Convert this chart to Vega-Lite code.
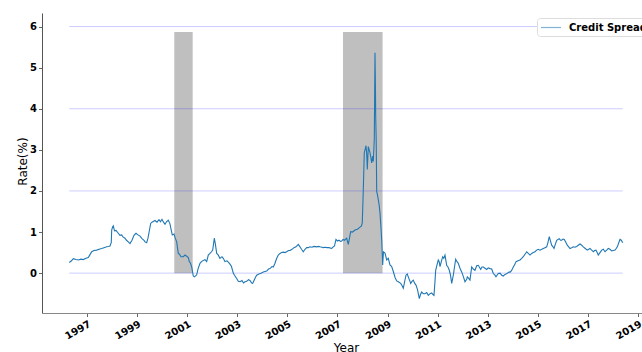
{
  "$schema": "https://vega.github.io/schema/vega-lite/v6.json",
  "width": 600,
  "height": 300,
  "autosize": {"type": "none"},
  "padding": {"left": 42, "top": 13, "right": 0, "bottom": 39},
  "background": "white",
  "config": {
    "view": {"stroke": null},
    "font": "DejaVu Sans",
    "axis": {
      "labelFont": "DejaVu Sans",
      "labelFontWeight": "bold",
      "labelFontSize": 10,
      "labelColor": "#000000",
      "titleFont": "DejaVu Sans",
      "titleFontWeight": "normal",
      "titleFontSize": 12,
      "titleColor": "#000000",
      "tickSize": 3.5,
      "tickColor": "#666666",
      "grid": false
    }
  },
  "datasets": {
    "spread": [
      {"year": 1996.293, "rate": 0.26}, {"year": 1996.381, "rate": 0.30}, {"year": 1996.453, "rate": 0.35},
      {"year": 1996.561, "rate": 0.33}, {"year": 1996.653, "rate": 0.32}, {"year": 1996.760, "rate": 0.34},
      {"year": 1996.852, "rate": 0.33}, {"year": 1996.960, "rate": 0.36}, {"year": 1997.052, "rate": 0.38},
      {"year": 1997.120, "rate": 0.45}, {"year": 1997.188, "rate": 0.52}, {"year": 1997.279, "rate": 0.55},
      {"year": 1997.387, "rate": 0.56}, {"year": 1997.479, "rate": 0.58}, {"year": 1997.587, "rate": 0.60},
      {"year": 1997.679, "rate": 0.62}, {"year": 1997.786, "rate": 0.64}, {"year": 1997.858, "rate": 0.65},
      {"year": 1997.918, "rate": 0.66}, {"year": 1997.970, "rate": 0.75}, {"year": 1997.986, "rate": 1.05},
      {"year": 1998.026, "rate": 1.13}, {"year": 1998.050, "rate": 1.15}, {"year": 1998.098, "rate": 1.03},
      {"year": 1998.158, "rate": 1.04}, {"year": 1998.250, "rate": 0.97}, {"year": 1998.317, "rate": 0.92},
      {"year": 1998.385, "rate": 0.93}, {"year": 1998.437, "rate": 0.88}, {"year": 1998.517, "rate": 0.85},
      {"year": 1998.577, "rate": 0.80}, {"year": 1998.649, "rate": 0.76}, {"year": 1998.717, "rate": 0.72},
      {"year": 1998.796, "rate": 0.80}, {"year": 1998.876, "rate": 0.92}, {"year": 1998.956, "rate": 0.97},
      {"year": 1999.036, "rate": 0.93}, {"year": 1999.116, "rate": 0.90}, {"year": 1999.196, "rate": 0.84},
      {"year": 1999.275, "rate": 0.80}, {"year": 1999.315, "rate": 0.76}, {"year": 1999.383, "rate": 0.74},
      {"year": 1999.435, "rate": 0.85}, {"year": 1999.495, "rate": 1.05}, {"year": 1999.543, "rate": 1.21},
      {"year": 1999.595, "rate": 1.24}, {"year": 1999.715, "rate": 1.28}, {"year": 1999.794, "rate": 1.24},
      {"year": 1999.874, "rate": 1.30}, {"year": 1999.934, "rate": 1.25}, {"year": 1999.994, "rate": 1.31},
      {"year": 2000.054, "rate": 1.24}, {"year": 2000.114, "rate": 1.19}, {"year": 2000.174, "rate": 1.25},
      {"year": 2000.246, "rate": 1.29}, {"year": 2000.313, "rate": 1.20}, {"year": 2000.361, "rate": 1.05},
      {"year": 2000.405, "rate": 0.93}, {"year": 2000.473, "rate": 0.95}, {"year": 2000.513, "rate": 0.87},
      {"year": 2000.581, "rate": 0.76}, {"year": 2000.645, "rate": 0.48}, {"year": 2000.693, "rate": 0.46},
      {"year": 2000.752, "rate": 0.40}, {"year": 2000.844, "rate": 0.40}, {"year": 2000.912, "rate": 0.44},
      {"year": 2000.980, "rate": 0.41}, {"year": 2001.044, "rate": 0.38}, {"year": 2001.084, "rate": 0.28},
      {"year": 2001.132, "rate": 0.24}, {"year": 2001.180, "rate": 0.15}, {"year": 2001.243, "rate": -0.07},
      {"year": 2001.291, "rate": -0.09}, {"year": 2001.379, "rate": -0.04}, {"year": 2001.431, "rate": 0.10},
      {"year": 2001.511, "rate": 0.24}, {"year": 2001.571, "rate": 0.28}, {"year": 2001.643, "rate": 0.31},
      {"year": 2001.711, "rate": 0.33}, {"year": 2001.778, "rate": 0.28}, {"year": 2001.842, "rate": 0.44},
      {"year": 2001.910, "rate": 0.48}, {"year": 2001.970, "rate": 0.52}, {"year": 2002.018, "rate": 0.56},
      {"year": 2002.050, "rate": 0.70}, {"year": 2002.082, "rate": 0.85}, {"year": 2002.122, "rate": 0.72},
      {"year": 2002.178, "rate": 0.48}, {"year": 2002.230, "rate": 0.45}, {"year": 2002.309, "rate": 0.36},
      {"year": 2002.389, "rate": 0.40}, {"year": 2002.441, "rate": 0.36}, {"year": 2002.509, "rate": 0.28},
      {"year": 2002.589, "rate": 0.30}, {"year": 2002.649, "rate": 0.26}, {"year": 2002.709, "rate": 0.22},
      {"year": 2002.768, "rate": 0.16}, {"year": 2002.840, "rate": 0.00}, {"year": 2002.888, "rate": -0.05},
      {"year": 2002.976, "rate": -0.13}, {"year": 2003.040, "rate": -0.20}, {"year": 2003.108, "rate": -0.21},
      {"year": 2003.188, "rate": -0.18}, {"year": 2003.248, "rate": -0.24}, {"year": 2003.307, "rate": -0.21},
      {"year": 2003.375, "rate": -0.20}, {"year": 2003.447, "rate": -0.16}, {"year": 2003.507, "rate": -0.18},
      {"year": 2003.575, "rate": -0.24}, {"year": 2003.615, "rate": -0.25}, {"year": 2003.667, "rate": -0.18},
      {"year": 2003.727, "rate": -0.10}, {"year": 2003.774, "rate": -0.05}, {"year": 2003.866, "rate": -0.02},
      {"year": 2003.946, "rate": 0.00}, {"year": 2004.038, "rate": 0.03}, {"year": 2004.106, "rate": 0.04},
      {"year": 2004.174, "rate": 0.05}, {"year": 2004.246, "rate": 0.10}, {"year": 2004.305, "rate": 0.11},
      {"year": 2004.385, "rate": 0.16}, {"year": 2004.437, "rate": 0.15}, {"year": 2004.505, "rate": 0.24},
      {"year": 2004.565, "rate": 0.35}, {"year": 2004.637, "rate": 0.44}, {"year": 2004.705, "rate": 0.48},
      {"year": 2004.772, "rate": 0.50}, {"year": 2004.836, "rate": 0.51}, {"year": 2004.904, "rate": 0.50},
      {"year": 2004.972, "rate": 0.52}, {"year": 2005.044, "rate": 0.55}, {"year": 2005.104, "rate": 0.55},
      {"year": 2005.184, "rate": 0.58}, {"year": 2005.263, "rate": 0.62}, {"year": 2005.343, "rate": 0.64},
      {"year": 2005.435, "rate": 0.70}, {"year": 2005.503, "rate": 0.64}, {"year": 2005.563, "rate": 0.58},
      {"year": 2005.635, "rate": 0.52}, {"year": 2005.703, "rate": 0.58}, {"year": 2005.770, "rate": 0.62},
      {"year": 2005.834, "rate": 0.62}, {"year": 2005.902, "rate": 0.64}, {"year": 2005.982, "rate": 0.63},
      {"year": 2006.062, "rate": 0.65}, {"year": 2006.170, "rate": 0.64}, {"year": 2006.242, "rate": 0.65},
      {"year": 2006.301, "rate": 0.64}, {"year": 2006.381, "rate": 0.63}, {"year": 2006.433, "rate": 0.62},
      {"year": 2006.501, "rate": 0.63}, {"year": 2006.581, "rate": 0.62}, {"year": 2006.661, "rate": 0.62},
      {"year": 2006.768, "rate": 0.60}, {"year": 2006.832, "rate": 0.64}, {"year": 2006.880, "rate": 0.66},
      {"year": 2006.940, "rate": 0.82}, {"year": 2007.000, "rate": 0.78}, {"year": 2007.060, "rate": 0.80},
      {"year": 2007.120, "rate": 0.77}, {"year": 2007.168, "rate": 0.78}, {"year": 2007.220, "rate": 0.82},
      {"year": 2007.279, "rate": 0.80}, {"year": 2007.367, "rate": 0.85}, {"year": 2007.431, "rate": 0.70},
      {"year": 2007.527, "rate": 1.01}, {"year": 2007.599, "rate": 1.00}, {"year": 2007.699, "rate": 1.05},
      {"year": 2007.798, "rate": 1.07}, {"year": 2007.898, "rate": 1.12}, {"year": 2007.958, "rate": 1.15},
      {"year": 2007.990, "rate": 1.23}, {"year": 2008.030, "rate": 2.03}, {"year": 2008.070, "rate": 2.93},
      {"year": 2008.106, "rate": 3.02}, {"year": 2008.138, "rate": 3.10}, {"year": 2008.166, "rate": 2.90},
      {"year": 2008.190, "rate": 2.52}, {"year": 2008.230, "rate": 3.08}, {"year": 2008.265, "rate": 3.00},
      {"year": 2008.297, "rate": 2.93}, {"year": 2008.337, "rate": 2.80}, {"year": 2008.365, "rate": 2.68},
      {"year": 2008.405, "rate": 2.85}, {"year": 2008.429, "rate": 2.72}, {"year": 2008.469, "rate": 3.25},
      {"year": 2008.497, "rate": 5.36}, {"year": 2008.517, "rate": 4.40}, {"year": 2008.525, "rate": 3.82},
      {"year": 2008.545, "rate": 3.25}, {"year": 2008.565, "rate": 1.99}, {"year": 2008.597, "rate": 1.90},
      {"year": 2008.629, "rate": 1.79}, {"year": 2008.665, "rate": 1.65}, {"year": 2008.697, "rate": 1.46},
      {"year": 2008.737, "rate": 1.10}, {"year": 2008.765, "rate": 0.81}, {"year": 2008.804, "rate": 0.20},
      {"year": 2008.836, "rate": 0.52}, {"year": 2008.896, "rate": 0.49}, {"year": 2008.964, "rate": 0.32},
      {"year": 2009.028, "rate": 0.36}, {"year": 2009.096, "rate": 0.20}, {"year": 2009.164, "rate": 0.16},
      {"year": 2009.228, "rate": 0.04}, {"year": 2009.295, "rate": -0.10}, {"year": 2009.363, "rate": -0.19},
      {"year": 2009.427, "rate": -0.21}, {"year": 2009.523, "rate": -0.25}, {"year": 2009.575, "rate": -0.30},
      {"year": 2009.627, "rate": -0.37}, {"year": 2009.683, "rate": -0.20}, {"year": 2009.735, "rate": -0.05},
      {"year": 2009.786, "rate": -0.02}, {"year": 2009.826, "rate": -0.09}, {"year": 2009.894, "rate": -0.20},
      {"year": 2009.922, "rate": -0.25}, {"year": 2009.974, "rate": -0.20}, {"year": 2010.026, "rate": -0.17},
      {"year": 2010.082, "rate": -0.25}, {"year": 2010.134, "rate": -0.29}, {"year": 2010.194, "rate": -0.40},
      {"year": 2010.266, "rate": -0.62}, {"year": 2010.313, "rate": -0.52}, {"year": 2010.361, "rate": -0.46},
      {"year": 2010.425, "rate": -0.50}, {"year": 2010.493, "rate": -0.50}, {"year": 2010.561, "rate": -0.47},
      {"year": 2010.625, "rate": -0.54}, {"year": 2010.693, "rate": -0.50}, {"year": 2010.761, "rate": -0.48},
      {"year": 2010.812, "rate": -0.52}, {"year": 2010.852, "rate": -0.54}, {"year": 2010.892, "rate": -0.20},
      {"year": 2010.920, "rate": 0.07}, {"year": 2010.972, "rate": 0.20}, {"year": 2011.024, "rate": 0.32},
      {"year": 2011.060, "rate": 0.28}, {"year": 2011.092, "rate": 0.16}, {"year": 2011.152, "rate": 0.30},
      {"year": 2011.200, "rate": 0.40}, {"year": 2011.244, "rate": 0.36}, {"year": 2011.291, "rate": 0.44},
      {"year": 2011.359, "rate": 0.19}, {"year": 2011.411, "rate": 0.15}, {"year": 2011.463, "rate": 0.07},
      {"year": 2011.511, "rate": -0.05}, {"year": 2011.559, "rate": -0.25}, {"year": 2011.591, "rate": -0.15},
      {"year": 2011.623, "rate": -0.05}, {"year": 2011.671, "rate": 0.15}, {"year": 2011.719, "rate": 0.34},
      {"year": 2011.770, "rate": 0.28}, {"year": 2011.822, "rate": 0.24}, {"year": 2011.890, "rate": 0.12},
      {"year": 2011.958, "rate": 0.03}, {"year": 2012.022, "rate": -0.08}, {"year": 2012.090, "rate": -0.21},
      {"year": 2012.158, "rate": -0.15}, {"year": 2012.182, "rate": -0.09}, {"year": 2012.230, "rate": -0.12},
      {"year": 2012.289, "rate": -0.17}, {"year": 2012.357, "rate": 0.15}, {"year": 2012.421, "rate": 0.10},
      {"year": 2012.489, "rate": 0.07}, {"year": 2012.557, "rate": 0.18}, {"year": 2012.621, "rate": 0.19},
      {"year": 2012.689, "rate": 0.12}, {"year": 2012.717, "rate": 0.09}, {"year": 2012.768, "rate": 0.15},
      {"year": 2012.820, "rate": 0.15}, {"year": 2012.888, "rate": 0.12}, {"year": 2012.956, "rate": 0.09},
      {"year": 2013.020, "rate": 0.13}, {"year": 2013.088, "rate": 0.11}, {"year": 2013.156, "rate": 0.10},
      {"year": 2013.220, "rate": -0.01}, {"year": 2013.287, "rate": -0.05}, {"year": 2013.327, "rate": -0.09},
      {"year": 2013.419, "rate": -0.01}, {"year": 2013.487, "rate": 0.00}, {"year": 2013.555, "rate": -0.05},
      {"year": 2013.619, "rate": -0.07}, {"year": 2013.687, "rate": -0.03}, {"year": 2013.766, "rate": -0.01},
      {"year": 2013.858, "rate": 0.03}, {"year": 2013.886, "rate": 0.02}, {"year": 2013.946, "rate": 0.06},
      {"year": 2014.018, "rate": 0.15}, {"year": 2014.086, "rate": 0.22}, {"year": 2014.126, "rate": 0.28},
      {"year": 2014.206, "rate": 0.30}, {"year": 2014.285, "rate": 0.32}, {"year": 2014.353, "rate": 0.36},
      {"year": 2014.417, "rate": 0.40}, {"year": 2014.485, "rate": 0.46}, {"year": 2014.553, "rate": 0.52},
      {"year": 2014.617, "rate": 0.48}, {"year": 2014.685, "rate": 0.44}, {"year": 2014.752, "rate": 0.48},
      {"year": 2014.816, "rate": 0.50}, {"year": 2014.884, "rate": 0.52}, {"year": 2014.952, "rate": 0.56},
      {"year": 2015.016, "rate": 0.58}, {"year": 2015.084, "rate": 0.56}, {"year": 2015.152, "rate": 0.58},
      {"year": 2015.216, "rate": 0.60}, {"year": 2015.283, "rate": 0.62}, {"year": 2015.351, "rate": 0.64},
      {"year": 2015.403, "rate": 0.75}, {"year": 2015.455, "rate": 0.89}, {"year": 2015.503, "rate": 0.78},
      {"year": 2015.551, "rate": 0.68}, {"year": 2015.603, "rate": 0.64}, {"year": 2015.643, "rate": 0.60},
      {"year": 2015.695, "rate": 0.70}, {"year": 2015.750, "rate": 0.80}, {"year": 2015.802, "rate": 0.82},
      {"year": 2015.854, "rate": 0.84}, {"year": 2015.902, "rate": 0.80}, {"year": 2015.950, "rate": 0.80},
      {"year": 2016.002, "rate": 0.83}, {"year": 2016.054, "rate": 0.82}, {"year": 2016.114, "rate": 0.75},
      {"year": 2016.174, "rate": 0.68}, {"year": 2016.230, "rate": 0.64}, {"year": 2016.281, "rate": 0.60},
      {"year": 2016.349, "rate": 0.62}, {"year": 2016.413, "rate": 0.64}, {"year": 2016.481, "rate": 0.63},
      {"year": 2016.549, "rate": 0.65}, {"year": 2016.613, "rate": 0.68}, {"year": 2016.681, "rate": 0.71},
      {"year": 2016.749, "rate": 0.68}, {"year": 2016.812, "rate": 0.64}, {"year": 2016.892, "rate": 0.60},
      {"year": 2016.972, "rate": 0.56}, {"year": 2017.028, "rate": 0.58}, {"year": 2017.080, "rate": 0.60},
      {"year": 2017.148, "rate": 0.56}, {"year": 2017.212, "rate": 0.52}, {"year": 2017.267, "rate": 0.55},
      {"year": 2017.319, "rate": 0.56}, {"year": 2017.367, "rate": 0.50}, {"year": 2017.411, "rate": 0.44},
      {"year": 2017.479, "rate": 0.50}, {"year": 2017.547, "rate": 0.56}, {"year": 2017.611, "rate": 0.58},
      {"year": 2017.679, "rate": 0.52}, {"year": 2017.747, "rate": 0.56}, {"year": 2017.810, "rate": 0.60},
      {"year": 2017.878, "rate": 0.58}, {"year": 2017.946, "rate": 0.54}, {"year": 2018.010, "rate": 0.55},
      {"year": 2018.078, "rate": 0.56}, {"year": 2018.126, "rate": 0.60}, {"year": 2018.170, "rate": 0.64},
      {"year": 2018.218, "rate": 0.72}, {"year": 2018.277, "rate": 0.82}, {"year": 2018.329, "rate": 0.80},
      {"year": 2018.385, "rate": 0.74}
    ],
    "recessions": [
      {"start": 2000.485, "end": 2001.219, "top": 5.87, "bottom": 0},
      {"start": 2007.220, "end": 2008.800, "top": 5.87, "bottom": 0}
    ],
    "levels": [
      {"level": 0, "from": 1996.293, "to": 2018.385},
      {"level": 2, "from": 1996.293, "to": 2018.385},
      {"level": 4, "from": 1996.293, "to": 2018.385},
      {"level": 6, "from": 1996.293, "to": 2018.385}
    ]
  },
  "layer": [
    {
      "data": {"name": "recessions"},
      "mark": {"type": "rect", "color": "#bfbfbf"},
      "encoding": {
        "x": {
          "field": "start",
          "type": "quantitative",
          "scale": {"domain": [1995.204, 2019.156], "nice": false, "zero": false},
          "axis": {
            "values": [1997, 1999, 2001, 2003, 2005, 2007, 2009, 2011, 2013, 2015, 2017, 2019],
            "format": "d",
            "labelAngle": -30,
            "labelAlign": "right",
            "labelBaseline": "top",
            "labelPadding": 2,
            "domainColor": "#888888",
            "title": "Year",
            "titleX": 304,
            "titleY": 38,
            "titleBaseline": "alphabetic",
            "titleAnchor": null
          }
        },
        "x2": {"field": "end"},
        "y": {
          "field": "top",
          "type": "quantitative",
          "scale": {"domain": [-0.97, 6.33], "nice": false, "zero": false},
          "axis": {
            "values": [0, 1, 2, 3, 4, 5, 6],
            "labelPadding": 2,
            "domainColor": "#555555",
            "title": "Rate(%)",
            "titleX": -16,
            "titleY": 148,
            "titleBaseline": "alphabetic",
            "titleAnchor": null
          }
        },
        "y2": {"field": "bottom"}
      }
    },
    {
      "data": {"name": "levels"},
      "mark": {"type": "rule", "color": "#0000ff", "opacity": 0.2, "strokeWidth": 1},
      "encoding": {
        "x": {"field": "from", "type": "quantitative"},
        "x2": {"field": "to"},
        "y": {"field": "level", "type": "quantitative"}
      }
    },
    {
      "data": {"name": "spread"},
      "mark": {"type": "line", "strokeWidth": 1.1, "interpolate": "linear"},
      "encoding": {
        "x": {"field": "year", "type": "quantitative"},
        "y": {"field": "rate", "type": "quantitative"},
        "color": {
          "datum": "Credit Spread",
          "type": "nominal",
          "scale": {"range": ["#1f77b4"]},
          "legend": {
            "title": null,
            "orient": "none",
            "legendX": 495,
            "legendY": 5,
            "symbolType": "M-1,0H2.64",
            "symbolSize": 121,
            "symbolStrokeWidth": 1.2,
            "symbolOpacity": 0.55,
            "labelFont": "DejaVu Sans",
            "labelFontWeight": "bold",
            "labelFontSize": 10,
            "labelColor": "#000000",
            "labelOffset": 16,
            "padding": 3,
            "strokeColor": "#dddddd",
            "fillColor": "#ffffff",
            "cornerRadius": 3
          }
        }
      }
    },
    {
      "mark": {"type": "rule", "color": "#999999", "strokeWidth": 1},
      "encoding": {"y": {"datum": 6.33}}
    }
  ]
}
